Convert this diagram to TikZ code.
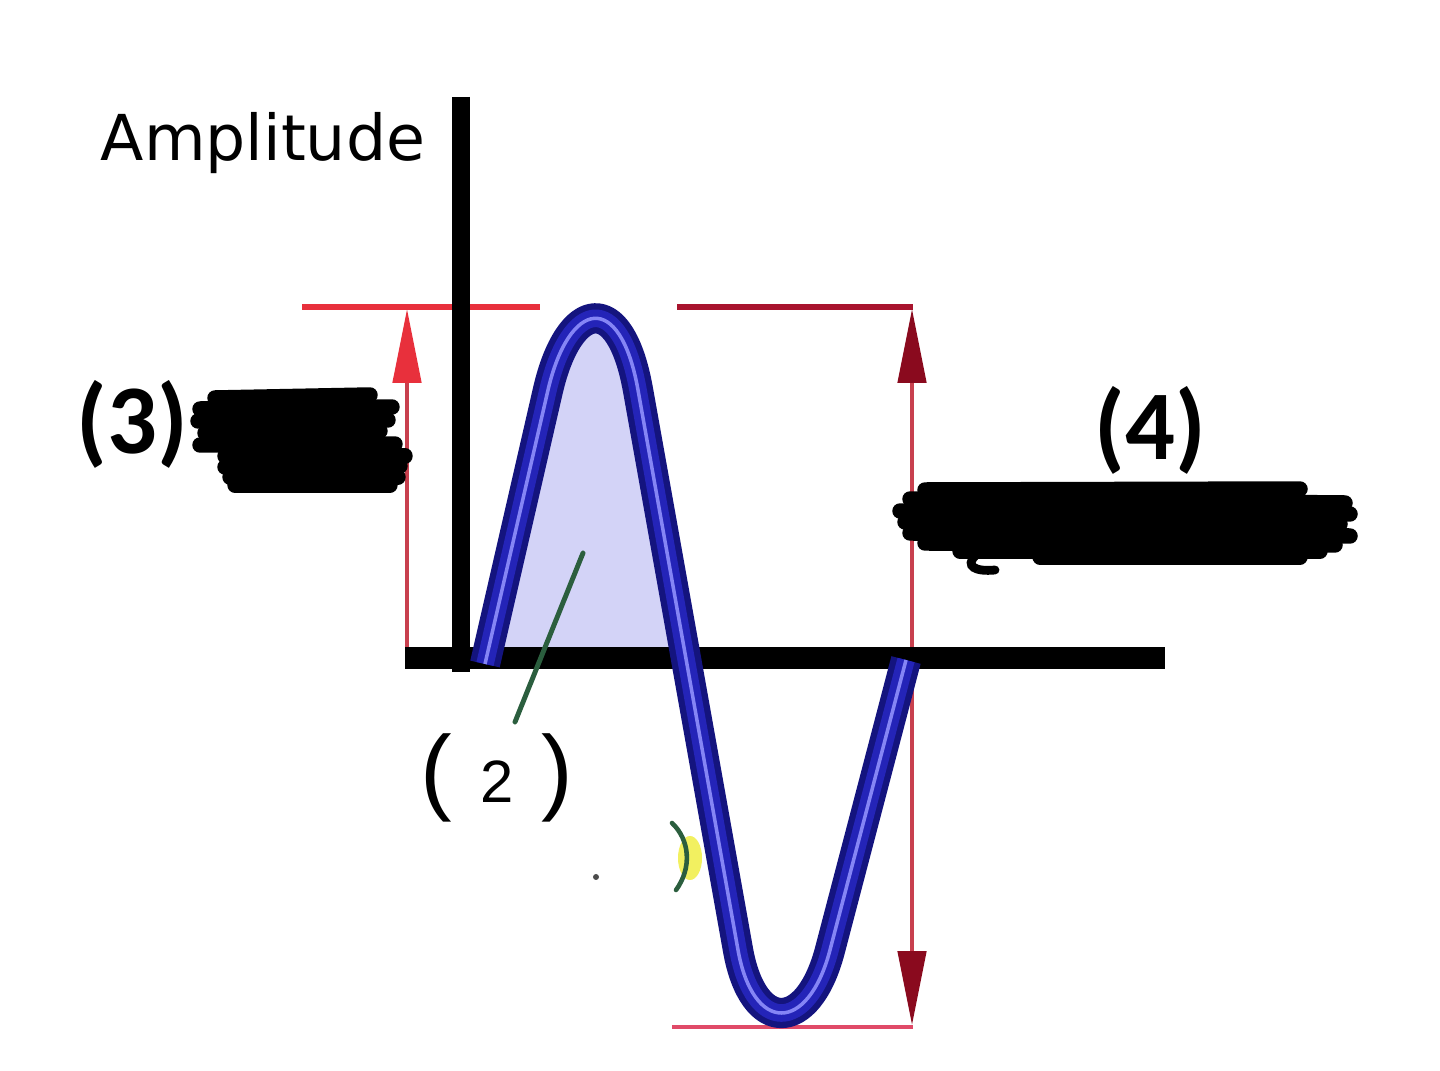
\documentclass[tikz,border=0pt]{standalone}
\usepackage{fontspec}
\setmainfont{Carlito}
\newfontfamily\ampfont{DejaVu Sans}
\newfontfamily\handfont{Liberation Sans}
\usetikzlibrary{arrows.meta}
\definecolor{wavefill}{HTML}{D3D3F7}
\definecolor{waveedge}{HTML}{14147E}
\definecolor{waveblue}{HTML}{2424B8}
\definecolor{wavecore}{HTML}{8585F5}
\definecolor{redbright}{HTML}{E8303C}
\definecolor{redline}{HTML}{C8404E}
\definecolor{reddark}{HTML}{8A0A1E}
\definecolor{redtop}{HTML}{A8142E}
\definecolor{redpink}{HTML}{E04A68}
\definecolor{pengreen}{HTML}{2B5E3E}
\definecolor{hilite}{HTML}{F2F060}
\tikzset{
  axisline/.style={black, line width=#1},
  waveedgepath/.style={waveedge, line width=8.6pt, line join=round},
  wavepath/.style={waveblue, line width=5pt, line join=round},
  wavecorepath/.style={wavecore, line width=1pt, line join=round},
  scribble/.style={black, line width=4.4pt, line cap=round},
  boldlabel/.style={font=\bfseries\fontsize{28}{28}\selectfont, inner sep=0pt},
}
\def\wavecurve{(485,664) -- (548,390) .. controls (569,300) and (620,289) .. (638,390) -- (738,950) .. controls (753,1034) and (808,1034) .. (830,950) -- (906,660)}
\begin{document}
\begin{tikzpicture}[x=0.01cm, y=-0.01cm]
\useasboundingbox (0,0) rectangle (1440,1071);
\fill[white] (0,0) rectangle (1440,1071);

% coordinates
\coordinate (axbase) at (407,658);
\coordinate (axtop) at (407,309);
\coordinate (rtop) at (912,309);
\coordinate (rbot) at (912,1025);

% fill under the peak
\fill[wavefill] (485,658) -- (548,390) .. controls (569,300) and (620,289) .. (638,390) -- (685,658) -- cycle;

% red reference lines
\draw[redbright, line width=1.5pt] (302,307) -- (540,307);
\draw[redline, line width=1.2pt, -{Triangle[length=21pt, width=8pt, color=redbright]}] (axbase) -- (axtop);
\draw[redtop, line width=1.5pt] (677,307) -- (913,307);
\draw[redpink, line width=1.4pt] (672,1027) -- (913,1027);
\draw[redline, line width=1.2pt, {Triangle[length=21pt, width=8pt, color=reddark]}-{Triangle[length=21pt, width=8pt, color=reddark]}] (rtop) -- (rbot);

% axes
\draw[axisline=5.2pt] (461,97) -- (461,672);
\draw[axisline=6.5pt] (405,658) -- (1165,658);

% wave
\draw[waveedgepath] \wavecurve;
\draw[wavepath] \wavecurve;
\draw[wavecorepath] \wavecurve;

% labels
\node[font=\ampfont\fontsize{18}{18}\selectfont, inner sep=0pt] (amp) at (263,143) {Amplitude};
\node[boldlabel] (l3) at (132,424) {(3)};
\node[boldlabel] (l4) at (1150,430) {(4)};

% scribbles over (3)
\draw[scribble] (215,398) -- (370,395);
\draw[scribble] (200,409) -- (392,407);
\draw[scribble] (198,421) -- (388,420);
\draw[scribble] (205,433) -- (380,431);
\draw[scribble] (200,445) -- (395,444);
\draw[scribble] (225,456) -- (405,456);
\draw[scribble] (225,467) -- (400,466);
\draw[scribble] (230,477) -- (398,477);
\draw[scribble] (235,485) -- (390,485);

% scribbles over (4)
\draw[scribble] (925,490) -- (1300,489);
\draw[scribble] (910,499) -- (1345,503);
\draw[scribble] (900,511) -- (1350,514);
\draw[scribble] (905,522) -- (1340,524);
\draw[scribble] (910,533) -- (1350,536);
\draw[scribble] (925,543) -- (1335,545);
\draw[scribble] (960,551) -- (1320,551);
\draw[scribble] (1040,557) -- (1300,557);
\draw[black, line width=2.5pt, line cap=round] (975,556) .. controls (965,566) and (975,572) .. (995,570);

% pointer and handwritten (2)
\draw[pengreen, line width=1.4pt, line cap=round] (583,553) -- (515,722);
\node[font=\handfont, inner sep=0pt] (l2) at (497,778) {{\fontsize{27}{27}\selectfont(}\hspace{8pt}{\fontsize{17}{17}\selectfont 2}\hspace{8pt}{\fontsize{27}{27}\selectfont)}};

% stray marks
\fill[hilite] (690,858) ellipse (12 and 22);
\draw[pengreen, line width=1.3pt, line cap=round] (672,823) .. controls (690,840) and (692,868) .. (676,890);
\fill[black!70] (596,877) circle (3);
\end{tikzpicture}
\end{document}
